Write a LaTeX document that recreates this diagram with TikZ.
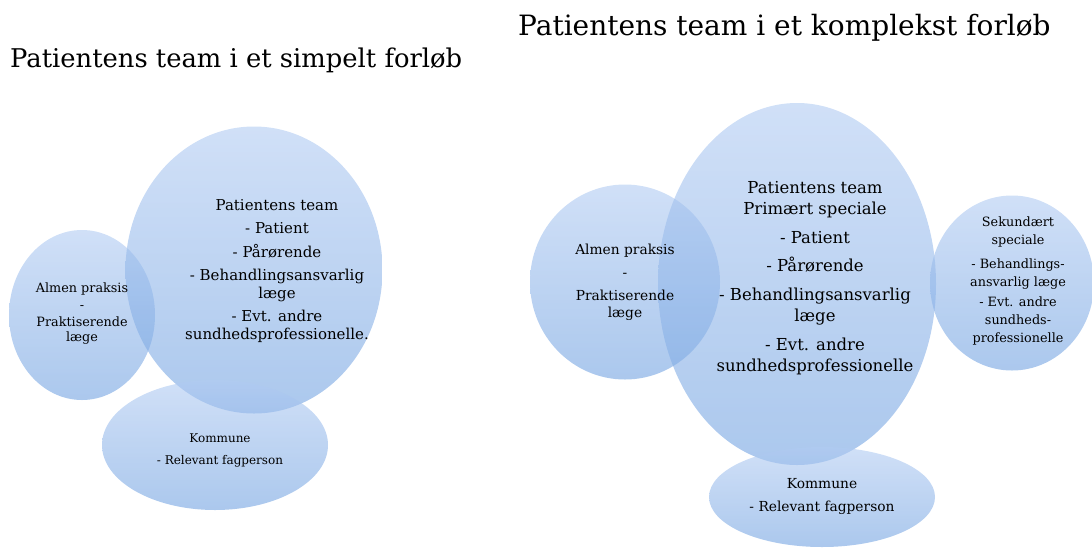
\documentclass[tikz,border=0pt]{standalone}
\usepackage{fontspec}
\setmainfont{DejaVu Serif}
\usetikzlibrary{shapes.geometric}
\definecolor{bubbletop}{RGB}{177,203,242}
\definecolor{bubblebot}{RGB}{115,163,225}
\tikzset{
    bubble/.style={
            ellipse,
            draw=none,
            top color=bubbletop, % lighter at the top
            bottom color=bubblebot,
            fill opacity=0.6, % lets the overlaps show darker
            inner sep=0pt,
        },
    title/.style={anchor=west, inner sep=0pt, font=\fontsize{25.8}{30}\selectfont},
    txt/.style={align=center, inner sep=0pt, text=black},
}

\begin{document}
\begin{tikzpicture}[x=1pt, y=-1pt]
                \useasboundingbox (0,0) rectangle (1092,550);

                % titles
                \node[title] (titleA) at (10,60) {Patientens team i et simpelt forløb};
                \node[title, font=\fontsize{28}{32}\selectfont] (titleB) at (518,28) {Patientens team i et komplekst forløb};

                % simple course
                \node[bubble, minimum width=146, minimum height=170] (almenA) at (82,315) {};
                \node[bubble, minimum width=257, minimum height=287] (teamA) at (254,270) {};
                \node[bubble, minimum width=226, minimum height=130] (kommuneA) at (215,445) {};

                % complex course
                \node[bubble, minimum width=190, minimum height=195] (almenB) at (625,282) {};
                \node[bubble, minimum width=278, minimum height=362] (teamB) at (797,284) {};
                \node[bubble, minimum width=164, minimum height=175] (sekB) at (1012,283) {};
                \node[bubble, minimum width=226, minimum height=100] (kommuneB) at (822,497) {};

                % texts
                \node[txt, font=\fontsize{12.8}{15}\selectfont] (almenAtxt) at (82,314) {Almen praksis\\[2pt]-\\[2pt]Praktiserende\\læge};
                \node[txt, font=\fontsize{15}{17.5}\selectfont] (teamAtxt) at (277,271) {Patientens team\\[6pt]- Patient\\[6pt]- Pårørende\\[6pt]- Behandlingsansvarlig\\læge\\[6pt]- Evt. andre\\sundhedsprofessionelle.};
                \node[txt, font=\fontsize{12}{22}\selectfont] (kommuneAtxt) at (220,450) {Kommune\\- Relevant fagperson};

                \node[txt, font=\fontsize{13.8}{17}\selectfont] (almenBtxt) at (625,282) {Almen praksis\\[6pt]-\\[6pt]Praktiserende\\læge};
                \node[txt, font=\fontsize{16.5}{20.5}\selectfont] (teamBtxt) at (815,278) {Patientens team\\Primært speciale\\[9pt]- Patient\\[7pt]- Pårørende\\[9pt]- Behandlingsansvarlig\\læge\\[9pt]- Evt. andre\\sundhedsprofessionelle};
                \node[txt, font=\fontsize{12.8}{18}\selectfont] (sekBtxt) at (1018,281) {Sekundært\\speciale\\[6pt]- Behandlings-\\ansvarlig læge\\[2pt]- Evt. andre\\sundheds-\\professionelle};
                \node[txt, font=\fontsize{13.8}{23}\selectfont] (kommuneBtxt) at (822,496) {Kommune\\- Relevant fagperson};
\end{tikzpicture}
\end{document}
